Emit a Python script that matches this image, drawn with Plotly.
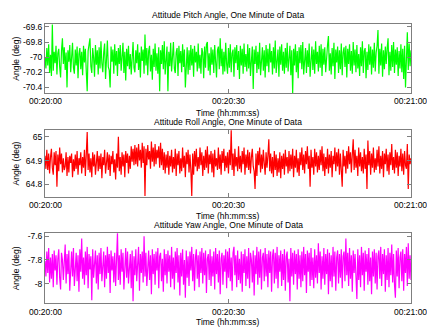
import numpy as np
import pandas as pd
import plotly.graph_objects as go

START = "2000-01-01 00:20:00"
DURATION_S = 60

# Pitch angle (deg): band centre and per-sample deviations in 0.01 deg
PITCH_CENTER = -70.03
PITCH_DEV_CENTI = [
    3, -12, 15, -8, 20, -18, 6, -22, 46, -15, 10, -5, 18, -20, 8, 14, -10, -24, 12, 28,
    -6, 16, -14, 9, -37, 12, -3, 19, -17, 5, 22, -11, -19, 13, -8, 17, -25, 7, 15, -13,
    10, -21, 18, -4, 14, -16, -42, 11, 20, 28, -9, -18, 15, 2, -23, 19, -7, 12, -20, 16,
    -12, 24, -5, -17, 9, 21, -26, 6, 25, -10, -14, -37, 17, -3, 13, -19, 20, -8, 11, -22,
    15, -6, 19, -15, 4, 22, -18, 10, -28, 14, -9, 18, -13, 7, -20, 16, 23, -11, -17, 12,
    -5, 20, -14, 9, -24, 17, -2, 13, -19, 33, -8, 15, -21, 11, 18, -16, 6, -27, 14, -10,
    21, -15, 8, -19, 16, -42, 12, -6, 19, -13, 24, -20, 5, 17, -42, 10, -9, 22, -16, 14,
    23, -12, -18, 9, 15, -22, 18, -5, 11, -17, 20, -10, 13, -37, 7, 16, -20, 12, -14, 19,
    -8, 14, -23, 18, -4, 10, -16, 21, -12, 6, -19, 15, 9, -25, 17, -11, 20, 23, -15, 8,
    -21, 16, -7, 13, -18, 19, -3, -24, 12, 17, -13, 28, -9, 14, -20, 10, -16, 22, -6, -19,
    15, -11, 20, -17, 8, 13, -23, 16, -5, 19, -14, 11, -26, 18, -8, 14, -19, 21, -10, 7,
    -16, 20, -12, 15, -22, 9, 17, -39, 13, -6, 18, -18, 10, -13, 22, -21, 5, 16, -15, 12,
    -24, 19, -9, 14, -17, 21, -4, 11, -20, 16, -12, 25, -18, 8, 13, -23, 17, -7, 20, -15,
    10, -19, 15, -11, 22, -16, 6, 18, -21, 12, -45, 14, -8, 20, -17, 11, -25, 16, -5, 19,
    -13, 23, -20, 9, 15, -18, 12, -10, 21, -23, 7, 17, -14, 13, -19, 24, -6, 10, -16, 18,
    -11, 20, -22, 14, -7, 16, -17, 11, 19, 31, -15, 8, -20, 15, -9, 22, -26, 13, -4, 17,
    -18, 12, -13, 21, -21, 9, 16, -10, 18, -24, 14, -6, 20, -15, 11, -19, 23, -8, 13, -17,
    19, -12, 7, -22, 16, -9, 24, -18, 11, 15, -25, 10, -14, 20, -7, 17, -20, 13, -11, 22,
    -16, 9, 18, 39, -19, 14, -8, 21, -23, 12, -13, 17, -6, 15, 28, -21, 10, -15, 19, -10,
    23, -18, 13, -7, 16, -22, 11, -12, 20, -17, 14, -26, 18, -37, 9, 36, -14, 21, -9, 12,
]

# Roll angle (deg): reference level and per-sample deviations in 0.001 deg
ROLL_CENTER = 64.90
ROLL_DEV_MILLI = [
    20, -35, 45, -40, 30, -55, 15, 50, -30, -60, 35, -20, 40, -110, 25, -45, 55, -15, 30, -50,
    10, -40, -25, 35, -65, 15, -50, 20, -10, 30, -70, 5, -45, 25, -35, 40, -60, 10, -20, 35,
    -55, 15, -30, 45, -65, 20, 120, -40, 30, -50, 10, -70, 35, -25, 25, -60, 5, 40, -45, 20,
    -35, 30, -75, 15, -20, 45, -55, 10, 35, -40, 25, -65, 20, -15, 40, -50, 5, -80, 30, -30,
    100, -45, 15, -60, 35, -25, 25, -70, 40, -10, 30, -55, 20, -35, 60, -5, 50, -20, 65, -15,
    55, -25, 70, 0, 45, -30, 75, -10, 60, -150, 50, -20, 65, 5, 40, -35, 80, -5, 55, -25,
    70, -15, 45, 10, 60, -30, 75, -20, 50, -40, 35, -55, 25, -30, 40, -60, 20, -25, 45, -50,
    15, -35, 50, -65, 30, -20, 40, -55, 10, -45, 55, -30, 20, -70, 35, -15, 45, -50, 25, -40,
    -150, 30, -60, 40, -25, 50, -45, 15, -35, 55, -20, 35, -65, 20, -40, 45, -30, 60, -55, 25,
    -15, 40, -50, 30, -70, 45, -25, 10, -40, 55, -35, 25, -60, 40, -10, 50, -45, 20, -30, 35,
    -55, 45, -20, 130, -40, 30, -65, 50, -25, 15, -45, 60, -35, 20, -50, 40, -15, 55, -60, 25,
    -30, 45, -40, 35, -55, 15, 50, -25, -45, -120, 30, -65, 40, -20, 55, -50, 25, -35, 45, -10,
    -60, 35, -30, 20, 90, -45, 30, -55, 15, -70, 40, -40, 25, -65, 10, -50, 35, -75, 20, -35,
    30, -60, 45, -25, 15, -55, 40, -45, 25, -35, 50, -70, 20, -30, 45, -50, 10, -65, 35, -20,
    55, -40, 25, -55, 40, -15, 60, -35, 20, -110, 45, -30, 15, -60, 50, -25, 35, -50, 20, -40,
    45, -20, 60, -45, 30, -65, 15, -35, 50, -55, 25, -30, 40, -70, 20, -15, 55, -45, 35, -25,
    50, -60, 30, -40, -110, 45, -25, 20, -55, 40, -35, 60, -15, 35, -50, 25, 90, -40, 45, -30,
    20, -65, 55, -25, 35, -45, 15, -55, 50, -35, 25, -120, 85, -20, 40, -60, 30, -30, 55, -50,
    10, -40, 45, -25, 60, -55, 20, -35, 40, -70, 30, -15, 50, -45, 25, -60, 35, -20, 70, -40,
    15, -55, 45, -30, 35, -65, 20, -25, 50, -45, 30, -60, 40, -20, -35, 70, -120, 25, -15, 10,
]

# Yaw angle (deg): band centre and per-sample deviations in 0.01 deg
YAW_CENTER = -7.85
YAW_DEV_CENTI = [
    4, -9, 12, -6, 15, -14, 7, -11, 10, -18, 13, -4, 9, -16, 6, 14, -10, -20, 11, 5,
    -12, 8, 18, -15, 10, -7, 13, -21, 6, 12, -9, 15, -17, 3, 11, -13, 9, -22, 14, -5,
    23, -11, 7, -16, 12, -8, 16, -19, 10, -3, 8, -29, 14, -10, 6, 13, -15, 9, -20, 11,
    -7, 15, -13, 5, 12, -18, 9, -11, 16, -6, 10, -23, 13, -4, 8, -14, 11, -17, 7, 28,
    -12, 9, -16, 14, -5, 11, -20, 6, 15, -10, 12, -15, 4, 10, -19, 13, -30, 8, -8, 14,
    -13, 7, 16, -21, 10, -6, 12, -14, 25, -9, 11, -17, 5, 13, -12, 9, -24, 14, -7, 10,
    -16, 12, -4, 15, -19, 8, 11, -13, 6, -22, 14, -8, 10, -15, 13, -5, 9, -18, 16, -11,
    7, -20, 12, -6, 15, -14, 9, -25, 11, -9, 14, -16, 5, -27, 13, -10, 8, -17, 12, -4,
    16, -13, 10, -21, 7, 14, -11, 9, -18, 12, -6, 15, -15, 11, -8, 13, -23, 6, 10, -12,
    14, -17, 8, -9, 12, -20, 15, -7, 10, -14, 13, -24, 6, 11, -16, 9, -5, 14, -19, 12,
    -10, 15, -13, 7, -21, 11, 16, -8, 9, -18, 13, -12, 6, -15, 12, -22, 10, -6, 14, -17,
    8, -11, 15, -19, 11, 5, -14, 13, -25, 9, -7, 16, -16, 12, -10, 14, -20, 7, 11, -13,
    15, -9, 10, -18, 13, -6, 12, -22, 8, 14, -15, 11, -11, 16, -19, 9, -5, 13, -17, 10,
    -12, 14, -21, 8, 12, -14, 6, -30, 15, -9, 11, -16, 13, -7, 10, -20, 14, -11, 9, -18,
    12, -13, 16, -8, 10, -23, 13, -5, 11, -17, 15, -12, 7, -19, 14, -10, 9, -15, 19, -6,
    12, -20, 8, -11, 15, -16, 10, -7, 14, -24, 11, -13, 9, -18, 16, -9, 12, -21, 7, 13,
    -15, 10, -10, 14, -19, 8, 12, -13, 23, -8, 11, -17, 15, -11, 9, -22, 13, -6, 10, -14,
    -28, 14, -12, 9, -18, 16, -8, 11, -21, 13, -5, 10, -16, 15, -13, 7, -24, 12, -9, 14,
    -15, 11, -20, 8, 13, -11, 16, -17, 10, -7, 14, -22, 9, -12, 15, -18, 11, -8, 18, -14,
    10, -16, -27, 13, -9, 15, -19, 7, 12, -13, 14, -21, 10, -6, 16, -17, 19, -11, 9, -12,
]

TITLES = ["Attitude Pitch Angle, One Minute of Data",
          "Attitude Roll Angle, One Minute of Data",
          "Attitude Yaw Angle, One Minute of Data"]
XTITLE = "Time (hh:mm:ss)"
YTITLE = "Angle (deg)"
X_TICKS = ["00:20:00", "00:20:30", "00:21:00"]
Y_TICKS = [[-69.6, -69.8, -70, -70.2, -70.4],
           [65.0, 64.9, 64.8],
           [-7.6, -7.8, -8.0]]
Y_TICKTEXT = [["-69.6", "-69.8", "-70", "-70.2", "-70.4"],
              ["65", "64.9", "64.8"],
              ["-7.6", "-7.8", "-8"]]
Y_RANGES = [[-70.48, -69.56], [64.747, 65.028], [-8.168, -7.575]]
COLORS = ["#00ff00", "#ff0000", "#ff00ff"]

pitch = [PITCH_CENTER + d / 100 for d in PITCH_DEV_CENTI]
roll = [ROLL_CENTER + d / 1000 for d in ROLL_DEV_MILLI]
yaw = [YAW_CENTER + d / 100 for d in YAW_DEV_CENTI]
series = [pitch, roll, yaw]

W, H = 427, 328
FONT = "Liberation Sans, Arial, sans-serif"
FS = 8.5

base = pd.Timestamp(START)

# pixel layout of the three panels (top, bottom) and x extents
X0, X1 = 45, 411
PANELS = [(22, 92), (129, 196), (232.7, 303.3)]
TITLE_Y = [13, 121, 224]
XTITLE_Y = [112, 215, 322]
XTICK_Y = [100, 204, 311.5]

def py(y):
    return 1 - y / H

fig = go.Figure()
tick_dates = [pd.Timestamp(f"2000-01-01 {t}") for t in X_TICKS]
annotations = []
txtfont = dict(family=FONT, size=FS, color="black")
for k, vals in enumerate(series):
    n = len(vals)
    t = base + pd.to_timedelta(np.arange(n) * DURATION_S / (n - 1), unit="s")
    sfx = "" if k == 0 else str(k + 1)
    fig.add_trace(go.Scatter(x=t, y=vals, mode="lines",
                             line=dict(color=COLORS[k], width=1.2),
                             xaxis="x" + sfx, yaxis="y" + sfx,
                             showlegend=False, hoverinfo="skip"))
    top, bot = PANELS[k]
    axcommon = dict(showline=True, linecolor="#7f7f7f", linewidth=1,
                    mirror="ticks", ticks="inside", ticklen=4,
                    tickcolor="#7f7f7f", showgrid=False, zeroline=False,
                    tickfont=txtfont)
    fig.update_layout(**{
        "xaxis" + sfx: dict(axcommon, type="date",
                            domain=[X0 / W, X1 / W],
                            range=[base, base + pd.Timedelta(seconds=DURATION_S)],
                            tickvals=tick_dates, ticktext=["", "", ""],
                            anchor="y" + sfx),
        "yaxis" + sfx: dict(axcommon, domain=[py(bot), py(top)],
                            range=Y_RANGES[k], tickvals=Y_TICKS[k],
                            ticktext=Y_TICKTEXT[k], anchor="x" + sfx),
    })
    # x tick labels as text placed under each tick (kept inside the page)
    for j, lab in enumerate(X_TICKS):
        annotations.append(dict(text=lab, x=tick_dates[j], y=py(XTICK_Y[k]),
                                xref="x" + sfx, yref="paper", showarrow=False,
                                xanchor="center", yanchor="middle",
                                xshift=-1 if j == len(X_TICKS) - 1 else 0,
                                font=txtfont))
    annotations.append(dict(text=TITLES[k], x=(X0 + X1) / 2 / W, y=py(TITLE_Y[k]),
                            xref="paper", yref="paper", showarrow=False,
                            xanchor="center", yanchor="middle", font=txtfont))
    annotations.append(dict(text=XTITLE, x=(X0 + X1) / 2 / W, y=py(XTITLE_Y[k]),
                            xref="paper", yref="paper", showarrow=False,
                            xanchor="center", yanchor="middle", font=txtfont))
    annotations.append(dict(text=YTITLE, x=16 / W, y=py((top + bot) / 2),
                            xref="paper", yref="paper", showarrow=False,
                            textangle=-90, xanchor="center", yanchor="middle",
                            font=txtfont))

fig.update_layout(width=W, height=H, margin=dict(l=0, r=0, t=0, b=0),
                  paper_bgcolor="white", plot_bgcolor="white",
                  annotations=annotations, showlegend=False)

fig.write_html("out.html", config={"displayModeBar": False})
